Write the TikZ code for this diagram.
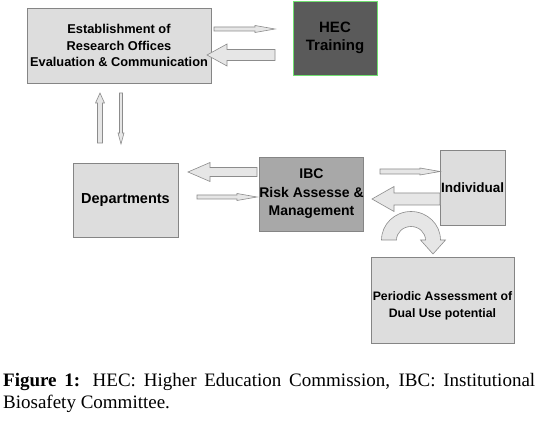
\documentclass[tikz,border=0pt]{standalone}
\usepackage{fontspec}
\setmainfont{Liberation Serif}
\newfontfamily\arialf{Liberation Sans}
\definecolor{boxfill}{HTML}{DDDDDD}
\definecolor{boxborder}{HTML}{858585}
\definecolor{ibcfill}{HTML}{A8A8A8}
\definecolor{hecfill}{HTML}{5A5A5A}
\definecolor{hecborder}{HTML}{70E070}
\definecolor{arrfill}{HTML}{E6E6E6}
\definecolor{arrborder}{HTML}{8C8C8C}
\tikzset{
  box/.style={draw=boxborder, fill=boxfill, line width=0.8pt, inner sep=0pt, align=center},
  arr/.style={draw=arrborder, fill=arrfill, line width=0.6pt, line join=miter},
  captxt/.style={inner sep=0pt, font=\fontsize{19}{22}\selectfont},
}
% start x, start y, length, angle, shaft half-width, head half-width, head length
\newcommand{\barr}[7]{%
  \begin{scope}[shift={(#1,#2)},rotate=#4]
    \draw[arr] (0,-#5) -- (#3-#7,-#5) -- (#3-#7,-#6) -- (#3,0) -- (#3-#7,#6) -- (#3-#7,#5) -- (0,#5) -- cycle;
  \end{scope}}
\begin{document}
\begin{tikzpicture}[x=1pt,y=-1pt]
\useasboundingbox[fill=white] (0,0) rectangle (539,422);

% boxes
\node[box, minimum width=184pt, minimum height=75pt, font=\arialf\bfseries\fontsize{12.8}{16.5}\selectfont]
  (est) at (119,45.5) {Establishment of\\Research Offices\\Evaluation \& Communication};
\node[box, draw=hecborder, fill=hecfill, minimum width=84pt, minimum height=74pt, font=\arialf\bfseries\fontsize{15}{18}\selectfont]
  (hec) at (335,38) {HEC\\Training};
\node[box, minimum width=105pt, minimum height=74pt, font=\arialf\bfseries\fontsize{14.5}{17}\selectfont]
  (dep) at (125.5,200) {Departments};
\node[box, fill=ibcfill, minimum width=101pt, minimum height=74pt, font=\arialf\bfseries\fontsize{14}{18.5}\selectfont]
  (ibc) at (311.5,194) {IBC\\Risk Assesse \&\\Management};
\node[box, minimum width=65pt, minimum height=75pt, font=\arialf\bfseries\fontsize{13.5}{16}\selectfont]
  (ind) at (472.5,187.5) {Individual};
\node[box, minimum width=143pt, minimum height=86pt, font=\arialf\bfseries\fontsize{12.3}{17}\selectfont]
  (per) at (442.5,300) {\\[4pt]Periodic Assessment of\\Dual Use potential};

% block arrows
\barr{214}{29}{61}{0}{2}{3.5}{20}
\barr{275}{55}{68}{180}{5.5}{11}{20}
\barr{100}{143}{50}{90}{2.5}{4.5}{10}
\barr{121}{93}{51}{-90}{1.5}{3}{11}
\barr{257}{172}{69}{180}{4.5}{9.5}{22}
\barr{197}{197}{60}{0}{2}{3.5}{20}
\barr{380}{171.5}{60}{0}{2.5}{3.5}{20}
\barr{440}{199}{68}{180}{6}{12.5}{22}

% curved arrow
\draw[arr] (381.5,240) arc[start angle=180, end angle=360, x radius=29.5, y radius=28.5]
  -- (445.5,240) -- (433,254) -- (420.5,240) -- (425.5,240)
  arc[start angle=360, end angle=180, x radius=14.5, y radius=13.5] -- cycle;

% caption
\node[captxt, anchor=base west] (cap1) at (3,386.5)
  {\makebox[532pt][s]{\textbf{Figure 1:} HEC: Higher Education Commission, IBC: Institutional}};
\node[captxt, anchor=base west] (cap2) at (3,409) {Biosafety Committee.};
\end{tikzpicture}
\end{document}
